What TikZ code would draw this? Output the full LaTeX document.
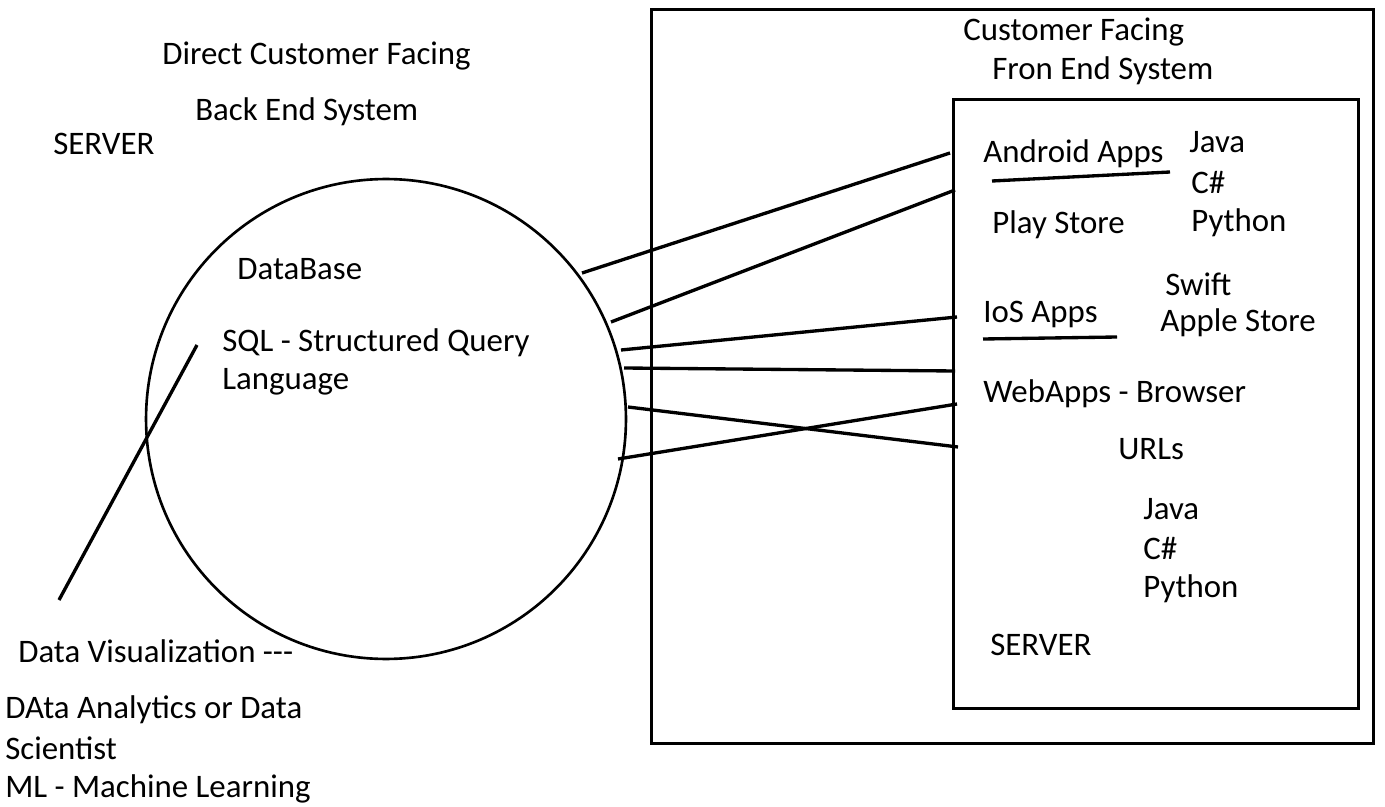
\documentclass[tikz,border=0pt]{standalone}
\usepackage{fontspec}
\setmainfont{Carlito}
\usepackage{tikz}
\usetikzlibrary{positioning}

\begin{document}
\begin{tikzpicture}
	[ x=0.02cm, y=-0.02cm,
		label/.style={anchor=west,inner sep=0pt,yshift=-0.05cm,font=\fontsize{18.7}{22}\selectfont},
		frame/.style={draw,line width=1.9pt},
		wire/.style={line width=1.9pt}]

	\useasboundingbox (0,0) rectangle (1385,807);

	% back end side
	\node[label] (direct) at (162,54) {Direct Customer Facing};
	\node[label] (backend) at (195,109) {Back End System};
	\node[label] (server1) at (53,141) {SERVER};
	\node[draw,circle,line width=1.5pt,minimum size=9.6cm,inner sep=0pt] (db) at (386,419) {};
	\node[label] (database) at (237,267) {DataBase};
	\node[label] (sql) at (222,340) {SQL - Structured Query};
	\node[label] (lang) at (222,379) {Language};
	\coordinate (vizA) at (59,600);
	\coordinate (vizB) at (197,345);
	\draw[wire] (vizA) -- (vizB);
	\node[label] (viz) at (18,649) {Data Visualization -{}-{}-};
	\node[label] (analytics) at (5,707) {DAta Analytics or Data};
	\node[label] (scientist) at (5,746) {Scientist};
	\node[label] (ml) at (5,786) {ML - Machine Learning};

	% front end side
	\node[frame,minimum width=14.44cm,minimum height=14.68cm,anchor=north west] (outer) at (650,8) {};
	\node[frame,minimum width=8.1cm,minimum height=12.18cm,anchor=north west] (inner) at (952,98) {};
	\node[label] (custfacing) at (963,30) {Customer Facing};
	\node[label] (frontend) at (992,68) {Fron End System};

	\node[label] (android) at (983,151) {Android Apps};
	\coordinate (ulA1) at (992,181);
	\coordinate (ulA2) at (1170,172);
	\draw[wire] (ulA1) -- (ulA2);
	\node[label] (java1) at (1189,140) {Java};
	\node[label] (cs1) at (1191,180) {C\#};
	\node[label] (py1) at (1191,220) {Python};
	\node[label] (play) at (992,222) {Play Store};
	\node[label] (swift) at (1165,282) {Swift};
	\node[label] (apple) at (1160,320) {Apple Store};
	\node[label] (ios) at (983,312) {IoS Apps};
	\coordinate (ulI1) at (983,339);
	\coordinate (ulI2) at (1117,337);
	\draw[wire] (ulI1) -- (ulI2);
	\node[label] (web) at (983,391) {WebApps - Browser};
	\node[label] (urls) at (1118,447) {URLs};
	\node[label] (java2) at (1143,507) {Java};
	\node[label] (cs2) at (1143,546) {C\#};
	\node[label] (py2) at (1143,586) {Python};
	\node[label] (server2) at (990,642) {SERVER};

	% links from the database
	\coordinate (l1a) at (582,273);
	\coordinate (l1b) at (950,153);
	\coordinate (l2a) at (611,322);
	\coordinate (l2b) at (955,190);
	\coordinate (l3a) at (621,350);
	\coordinate (l3b) at (957,317);
	\coordinate (l4a) at (624,368);
	\coordinate (l4b) at (955,371);
	\coordinate (l5a) at (628,407);
	\coordinate (l5b) at (958,447);
	\coordinate (l6a) at (618,459);
	\coordinate (l6b) at (957,404);
	\foreach \n in {1,...,6}
		\draw[wire] (l\n a) -- (l\n b);
\end{tikzpicture}
\end{document}
